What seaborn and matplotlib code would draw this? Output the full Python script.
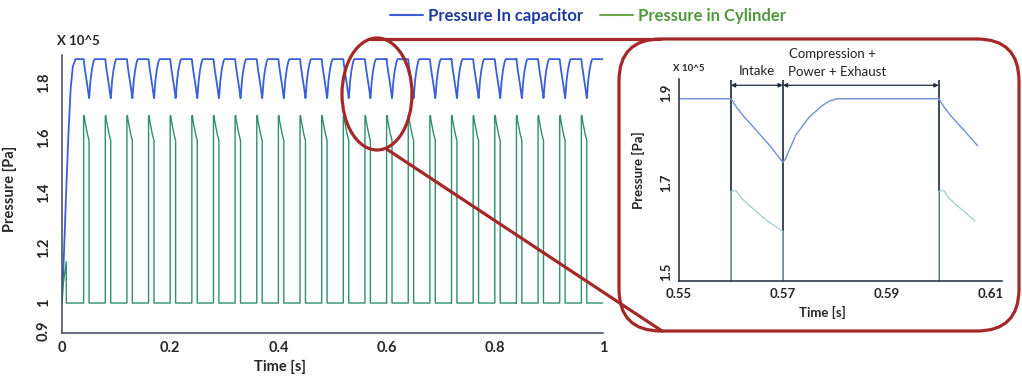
import numpy as np
import pandas as pd
import seaborn as sns
import matplotlib.pyplot as plt
from matplotlib.patches import Ellipse, FancyBboxPatch
from matplotlib.lines import Line2D
from matplotlib.transforms import IdentityTransform

# ---------------------------------------------------------------- data
# start-up transient (first 0.04 s)
startup_t_cap = [0.0, 0.004, 0.008, 0.012, 0.016, 0.020, 0.025, 0.040]
startup_p_cap = [1.0, 1.20, 1.42, 1.62, 1.78, 1.86, 1.887, 1.887]
startup_t_cyl = [0.0, 0.001, 0.008, 0.008, 0.040]
startup_p_cyl = [1.0, 1.05, 1.15, 1.0, 1.0]

# one engine cycle (time since intake opens, pressure x 10^5 Pa)
cycle_t_cap = [0.0, 0.0012, 0.0025, 0.005, 0.0075, 0.010, 0.0105, 0.011, 0.0125,
               0.015, 0.0175, 0.019, 0.0205, 0.040]
cycle_p_cap = [1.887, 1.866, 1.847, 1.815, 1.782, 1.745, 1.752, 1.766, 1.806,
               1.845, 1.871, 1.882, 1.887, 1.887]
cycle_t_cyl = [0.0, 0.0, 0.001, 0.002, 0.004, 0.007, 0.010, 0.010, 0.040]
cycle_p_cyl = [1.0, 1.68, 1.682, 1.665, 1.644, 1.614, 1.591, 1.0, 1.0]

# instants where the intake valve opens
intake_starts = [0.04, 0.08, 0.12, 0.16, 0.20, 0.24, 0.28, 0.32, 0.36, 0.40, 0.44, 0.48,
                 0.52, 0.56, 0.60, 0.64, 0.68, 0.72, 0.76, 0.80, 0.84, 0.88, 0.92, 0.96]

# stroke boundaries marked in the zoomed view
stroke_marks = [0.56, 0.57, 0.60]

main_xticks = [0, 0.2, 0.4, 0.6, 0.8, 1.0]
main_xtick_labels = ["0", "0.2", "0.4", "0.6", "0.8", "1"]
main_yticks = [0.9, 1.0, 1.1, 1.2, 1.3, 1.4, 1.5, 1.6, 1.7, 1.8]
main_ytick_labels = ["0.9", "1", "", "1.2", "", "1.4", "", "1.6", "", "1.8"]
zoom_xticks = [0.55, 0.57, 0.59, 0.61]
zoom_yticks = [1.5, 1.7, 1.9]

LABEL_CAP = "Pressure In capacitor"
LABEL_CYL = "Pressure in Cylinder"


def build_series(t0, p0, ct, cp, starts):
    t, p = list(t0), list(p0)
    for s in starts:
        t += [s + dt for dt in ct]
        p += list(cp)
    return pd.DataFrame({"t": t, "p": p})


cap = build_series(startup_t_cap, startup_p_cap, cycle_t_cap, cycle_p_cap, intake_starts)
cyl = build_series(startup_t_cyl, startup_p_cyl, cycle_t_cyl, cycle_p_cyl, intake_starts)

# ---------------------------------------------------------------- style
sns.set_theme(style="white")
plt.rcParams["font.family"] = ["Lato", "DejaVu Sans"]

BLUE = "#3a5fd6"
GREEN = "#2f8f6e"
BLUE_LIGHT = "#6f8fd8"
GREEN_LIGHT = "#9fcfcc"
DARK = "#1e2a38"
RED = "#a52828"

W, H = 1022, 379
fig = plt.figure(figsize=(W / 100, H / 100), dpi=100)


def fig_rect(x0, y0, x1, y1):
    return [x0 / W, 1 - y1 / H, (x1 - x0) / W, (y1 - y0) / H]


# ---------------------------------------------------------------- main axes
ax = fig.add_axes(fig_rect(62, 55, 603, 333))
sns.lineplot(data=cap, x="t", y="p", ax=ax, estimator=None, sort=False,
             color=BLUE, lw=1.3)
sns.lineplot(data=cyl, x="t", y="p", ax=ax, estimator=None, sort=False,
             color=GREEN, lw=1.0)
ax.set_xlim(0, 1.0)
ax.set_ylim(0.891, 1.902)
ax.set_xticks(main_xticks)
ax.set_xticklabels(main_xtick_labels, fontsize=10.5, fontweight="bold")
ax.set_xticks([0.1, 0.3, 0.5, 0.7, 0.9], minor=True)
ax.set_yticks(main_yticks)
ax.set_yticklabels(main_ytick_labels, fontsize=10.5, fontweight="bold",
                   rotation=90, va="center")
ax.tick_params(axis="both", which="both", direction="in", length=3,
               color="#56607a", width=0.8)
ax.tick_params(axis="x", pad=6)
ax.tick_params(axis="y", pad=8)
for side in ("top", "right"):
    ax.spines[side].set_visible(False)
for side in ("left", "bottom"):
    ax.spines[side].set_color("#3c4558")
    ax.spines[side].set_linewidth(1.1)
ax.set_xlabel("Time [s]", fontsize=10.5, fontweight="bold")
ax.xaxis.set_label_coords(0.403, -0.095)
ax.set_ylabel("Pressure [Pa]", fontsize=10.5, fontweight="bold")
ax.yaxis.set_label_coords(-0.083, 0.52)
ax.text(-0.01, 1.03, "X 10^5", transform=ax.transAxes, fontsize=9.5,
        fontweight="bold", ha="left", va="bottom")

# ---------------------------------------------------------------- zoomed view
ZOOM_T_END = 0.6075
axz = fig.add_axes(fig_rect(679, 79, 1002, 281))
sns.lineplot(data=cap[cap.t <= ZOOM_T_END], x="t", y="p", ax=axz,
             estimator=None, sort=False, color=BLUE_LIGHT, lw=1.0)
sns.lineplot(data=cyl[cyl.t <= ZOOM_T_END], x="t", y="p", ax=axz,
             estimator=None, sort=False, color=GREEN_LIGHT, lw=0.9)
axz.set_xlim(0.55, 0.6122)
axz.set_ylim(1.48, 1.931)
axz.vlines(stroke_marks, 1.48, 1.928, color=DARK, lw=1.2, zorder=1)
arrow_y = 1.917
for a, b in zip(stroke_marks[:-1], stroke_marks[1:]):
    axz.annotate("", xy=(b, arrow_y), xytext=(a, arrow_y),
                 arrowprops=dict(arrowstyle="<|-|>", color=DARK, lw=0.9,
                                 mutation_scale=6, shrinkA=0, shrinkB=0))
axz.text(0.565, 1.948, "Intake", fontsize=9.5, ha="center", va="center", color="#222")
axz.text(0.5796, 1.986, "Compression +", fontsize=9.5, ha="center", va="center", color="#222")
axz.text(0.5804, 1.946, "Power + Exhaust", fontsize=9.5, ha="center", va="center", color="#222")
axz.set_xticks(zoom_xticks)
axz.set_xticklabels([f"{v:.2f}" for v in zoom_xticks], fontsize=9.5, fontweight="bold")
axz.set_yticks(zoom_yticks)
axz.set_yticklabels([f"{v:.1f}" for v in zoom_yticks], fontsize=9.5,
                    fontweight="bold", rotation=90, va="center")
axz.tick_params(axis="both", length=0, pad=5)
for side in ("top", "right"):
    axz.spines[side].set_visible(False)
for side in ("left", "bottom"):
    axz.spines[side].set_color(DARK)
    axz.spines[side].set_linewidth(1.1)
axz.set_xlabel("Time [s]", fontsize=9.5, fontweight="bold")
axz.xaxis.set_label_coords(0.443, -0.125)
axz.set_ylabel("Pressure [Pa]", fontsize=9.5, fontweight="bold")
axz.yaxis.set_label_coords(-0.105, 0.55)
axz.text(-0.02, 1.03, "X 10^5", transform=axz.transAxes, fontsize=7,
         fontweight="bold", ha="left", va="bottom")

# ---------------------------------------------------------------- callout shapes (pixel coords)
px = IdentityTransform()


def P(x, y):
    return (x, H - y)


fig.add_artist(Ellipse(P(377, 94), 70, 112, transform=px, fill=False,
                       ec=RED, lw=2.3, zorder=5))
fig.add_artist(FancyBboxPatch(P(619, 331), 400, 292, transform=px,
                              boxstyle="round,pad=0,rounding_size=42",
                              fill=False, ec=RED, lw=2.3, zorder=5))
fig.add_artist(Line2D([370, 660], [H - 39, H - 39], transform=px,
                      color=RED, lw=2.3, zorder=5))
fig.add_artist(Line2D([388, 662], [H - 150, H - 331], transform=px,
                      color=RED, lw=2.3, zorder=5))

# ---------------------------------------------------------------- legend
handles = [Line2D([], [], color=BLUE, lw=1.5), Line2D([], [], color="#6aa84f", lw=1.5)]
fig.legend(handles, [LABEL_CAP, LABEL_CYL], loc="center",
           bbox_to_anchor=(588 / W, 1 - 16 / H), ncol=2, frameon=False,
           prop=dict(weight="bold", size=12), handlelength=2.0,
           handletextpad=0.3, columnspacing=1.0,
           labelcolor=["#1f3b9e", "#4f9a3c"])

fig.savefig("out.png", dpi=100)
